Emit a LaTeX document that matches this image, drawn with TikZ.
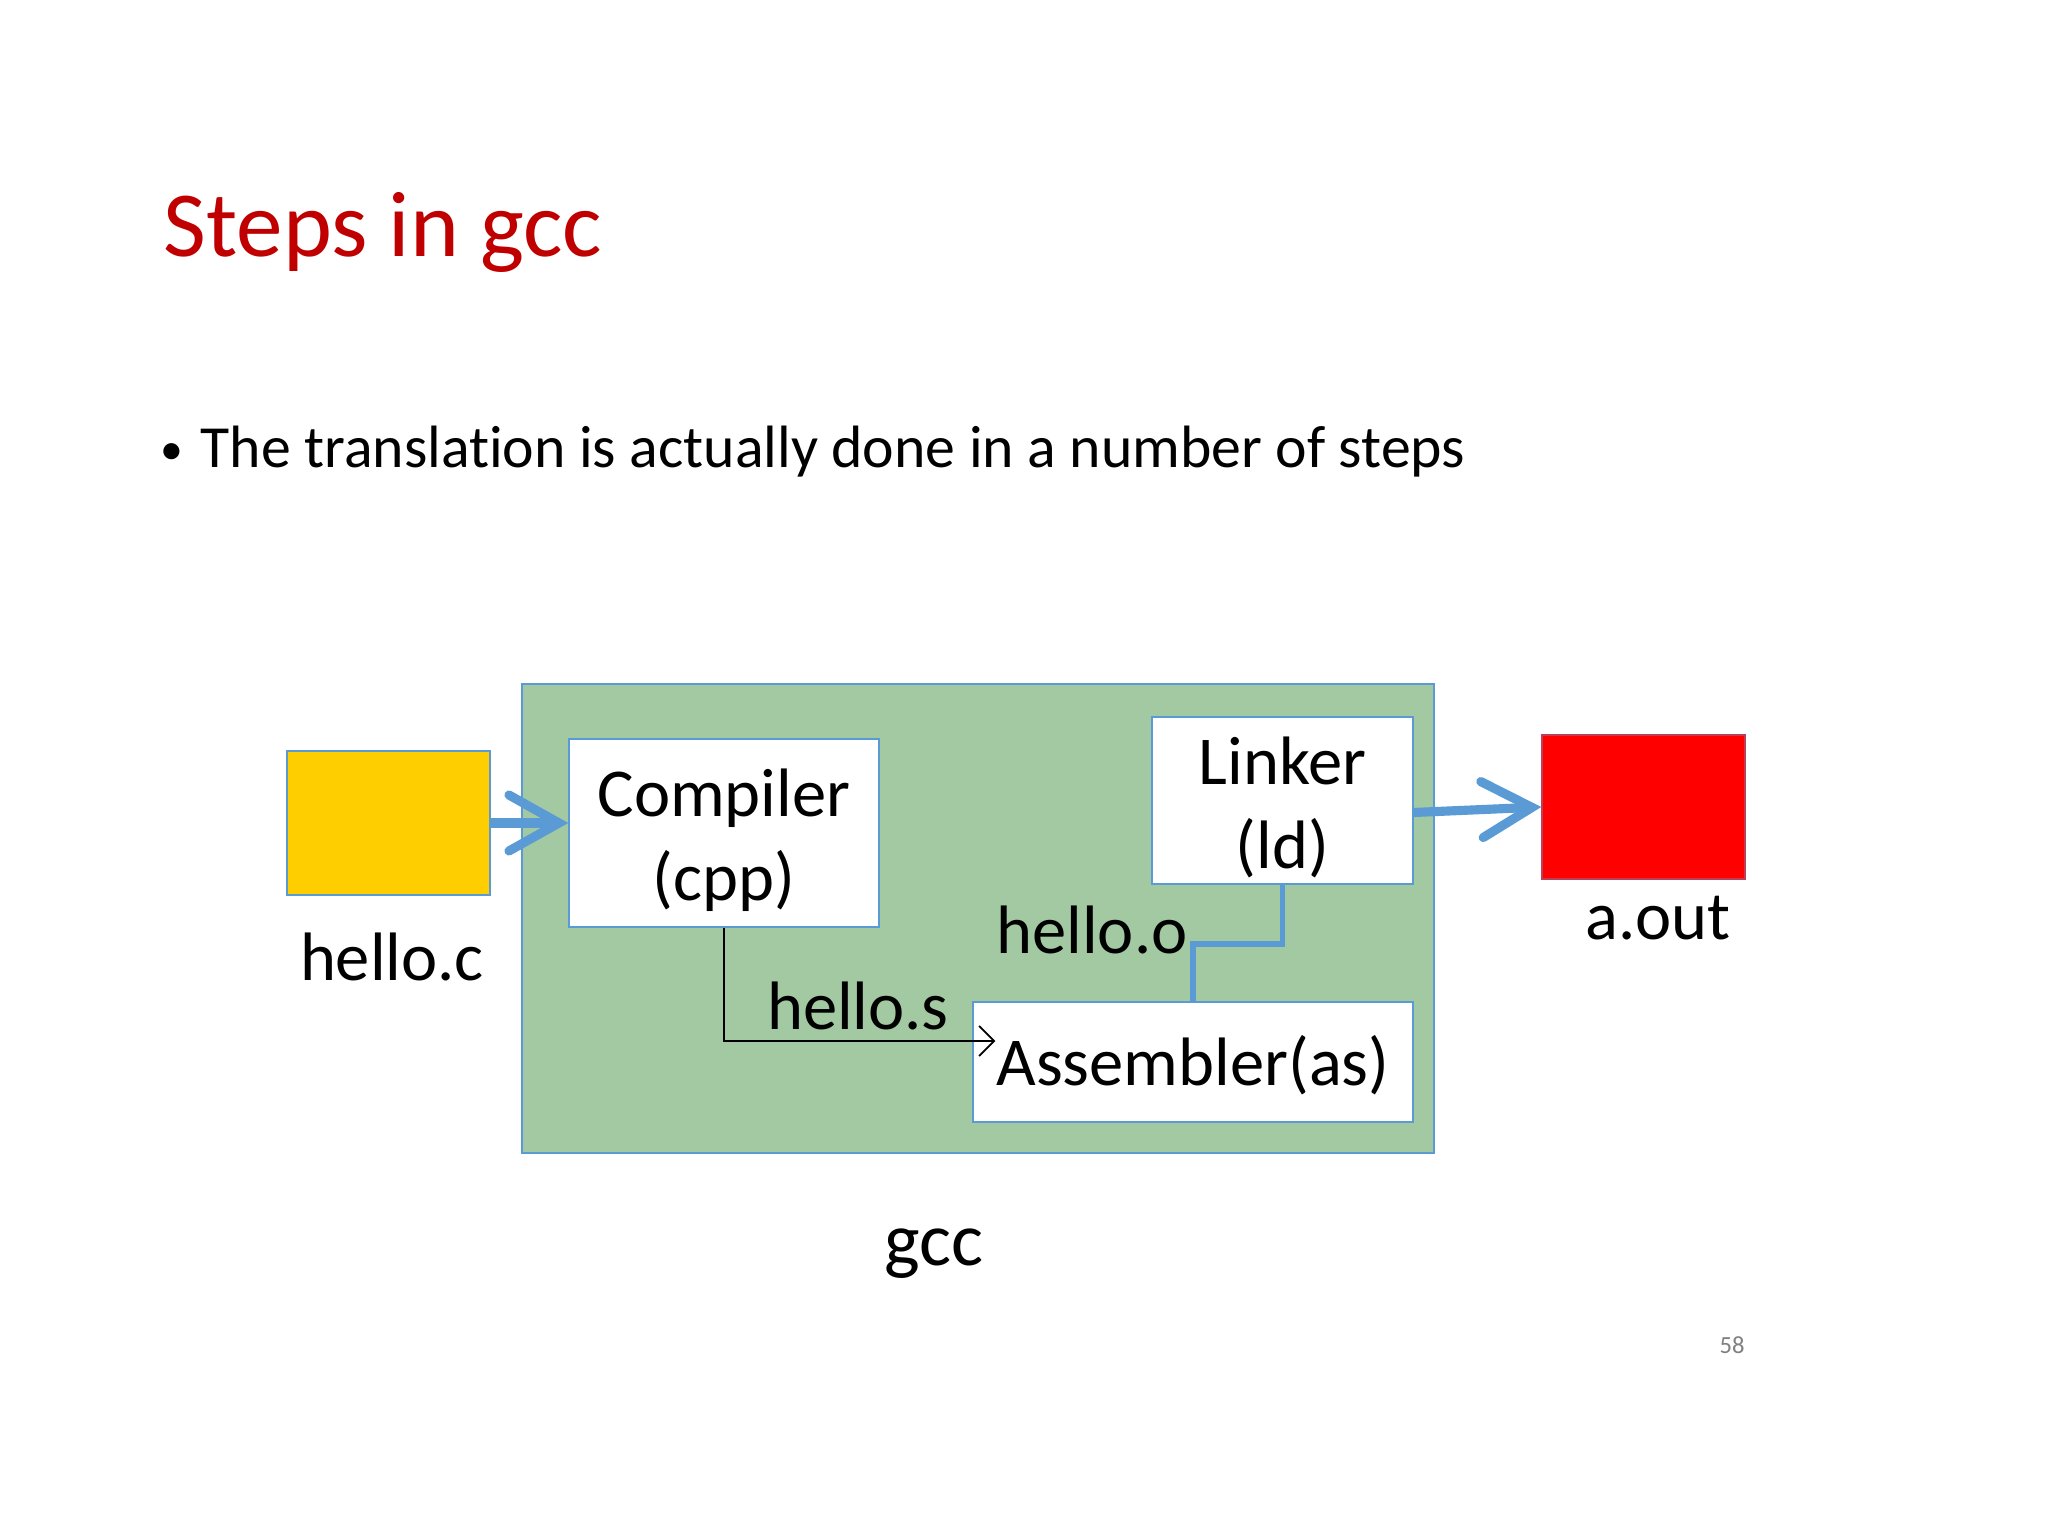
\documentclass[tikz,border=0pt]{standalone}
\usepackage{fontspec}
\setmainfont{Carlito}[Ligatures=NoCommon]
\usetikzlibrary{arrows.meta}
\definecolor{gccgreen}{RGB}{162,201,161}
\definecolor{edgeblue}{RGB}{91,155,213}
\definecolor{titlered}{RGB}{192,0,0}
\definecolor{srcyellow}{RGB}{255,206,0}
\newcommand{\toplift}{\rule{0pt}{0.62cm}}

\begin{document}
\begin{tikzpicture}[
  box/.style={draw=edgeblue,line width=0.4pt,rectangle,inner sep=0pt,align=center,font=\fontsize{19.5}{24}\selectfont},
  lbl/.style={inner sep=0pt,font=\fontsize{19.5}{24}\selectfont},
  flow/.style={-{Straight Barb[length=0.5cm,width=0.56cm,line cap=round]},edgeblue,line width=2.6pt}
]
\useasboundingbox[fill=white] (0,0) rectangle (20.48,-15.36);
\node[anchor=base west,inner sep=0pt,text=titlered,font=\fontsize{26.5}{30}\selectfont] (title) at (1.63,-2.57) {Steps in gcc};
\node[inner sep=0pt,font=\fontsize{13}{14}\selectfont] (dot) at (1.715,-4.54) {\textbullet};
\node[anchor=base west,inner sep=0pt,font=\fontsize{17}{20}\selectfont] (bullet) at (2.00,-4.68) {The translation is actually done in a number of steps};
\node[box,fill=gccgreen,minimum width=9.12cm,minimum height=4.69cm] (gcc) at (9.78,-9.185) {};
\node[box,fill=srcyellow,minimum width=2.03cm,minimum height=1.44cm] (yel) at (3.885,-8.23) {};
\node[box,fill=white,minimum width=3.10cm,minimum height=1.88cm] (comp) at (7.24,-8.33) {\toplift Compiler\\(cpp)};
\node[box,fill=white,minimum width=2.61cm,minimum height=1.67cm] (link) at (12.825,-8.005) {\toplift Linker\\(ld)};
\node[box,fill=white,minimum width=4.40cm,minimum height=1.20cm] (asm) at (11.93,-10.62) {\rule{0pt}{0.56cm}Assembler(as)};
\node[box,draw=edgeblue!40!red,fill=red,minimum width=2.03cm,minimum height=1.44cm] (red) at (16.435,-8.07) {};
\node[lbl] (helloc) at (3.92,-9.57) {hello.c};
\node[lbl] (aout) at (16.58,-9.18) {a.out};
\node[lbl,font=\fontsize{21.5}{24}\selectfont] (gcclbl) at (9.34,-12.54) {gcc};
\node[lbl] (hellos) at (8.58,-10.06) {hello.s};
\node[lbl] (helloo) at (10.92,-9.30) {hello.o};
\node[inner sep=0pt,text=gray,font=\fontsize{7}{8}\selectfont] (page) at (17.32,-13.45) {58};
\draw[flow] (yel.east) -- (comp.west |- yel.east);
\draw[flow] ([yshift=-0.12cm]link.east) -- (red.west);
\draw[-{Straight Barb[length=0.15cm,width=0.3cm]},line width=0.5pt] (comp.south) |- ([xshift=0.23cm,yshift=0.21cm]asm.west);
\draw[edgeblue,line width=1.6pt] (link.south) -- ++(0,-0.59) -| (asm.north);
\end{tikzpicture}
\end{document}
